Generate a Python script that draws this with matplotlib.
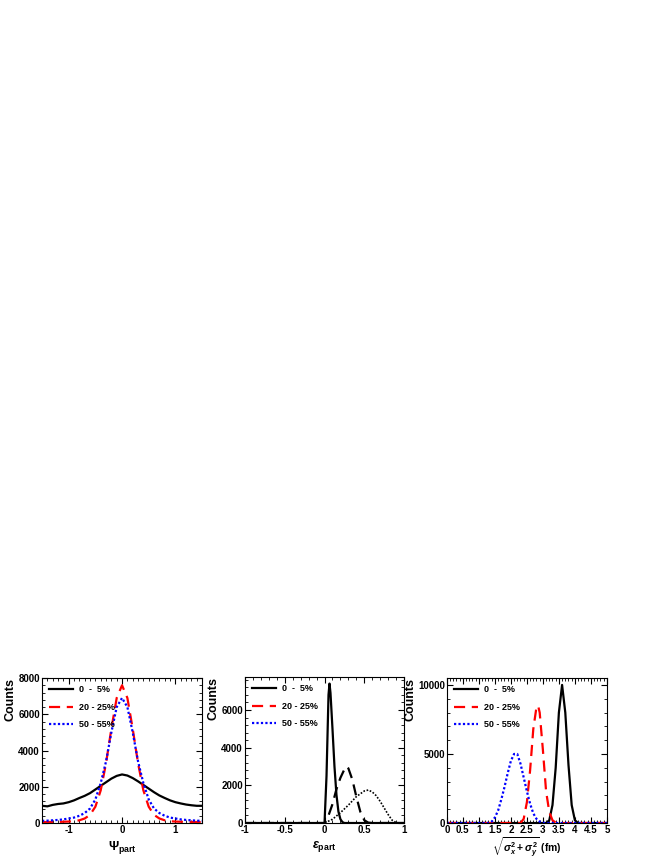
import matplotlib
matplotlib.use('Agg')
import matplotlib.pyplot as plt
from matplotlib.ticker import MultipleLocator, FormatStrFormatter

plt.rcParams['font.family'] = ['Liberation Sans', 'DejaVu Sans']
plt.rcParams['font.weight'] = 'bold'
plt.rcParams['mathtext.fontset'] = 'custom'
plt.rcParams['mathtext.rm'] = 'Liberation Sans'
plt.rcParams['mathtext.it'] = 'Liberation Sans:italic'
plt.rcParams['mathtext.bf'] = 'Liberation Sans:bold'

labels = ['0  -  5%', '20 - 25%', '50 - 55%']

# panel 1: participant plane angle
psi_x = [-1.5, -1.4, -1.3, -1.2, -1.1, -1.0, -0.9, -0.8, -0.7, -0.6, -0.5, -0.4, -0.3, -0.2, -0.1, 0.0,
         0.1, 0.2, 0.3, 0.4, 0.5, 0.6, 0.7, 0.8, 0.9, 1.0, 1.1, 1.2, 1.3, 1.4, 1.5]
psi_c0 = [950, 920, 1000, 1050, 1080, 1150, 1250, 1380, 1500, 1650, 1850, 2050, 2250, 2450, 2600, 2680,
          2620, 2480, 2300, 2100, 1900, 1700, 1520, 1380, 1250, 1150, 1080, 1020, 980, 950, 950]
psi_c20 = [50, 55, 60, 60, 70, 80, 100, 150, 250, 450, 900, 1800, 3300, 5200, 6900, 7600,
           6900, 5200, 3300, 1800, 900, 450, 250, 150, 100, 80, 70, 60, 60, 55, 50]
psi_c50 = [120, 130, 150, 170, 200, 250, 300, 400, 550, 800, 1300, 2200, 3400, 5000, 6400, 6900,
           6400, 5000, 3400, 2200, 1300, 800, 550, 400, 300, 250, 200, 170, 150, 130, 120]

# panel 2: participant eccentricity
ecc_x0 = [-1.0, 0.0, 0.025, 0.05, 0.0625, 0.075, 0.1, 0.125, 0.15, 0.175, 0.2, 0.225, 0.25, 1.0]
ecc_c0 = [0, 0, 2500, 6800, 7400, 6900, 5000, 3000, 1500, 600, 200, 50, 0, 0]
ecc_x20 = [-1.0, 0.0, 0.05, 0.1, 0.15, 0.2, 0.25, 0.28, 0.3, 0.35, 0.4, 0.45, 0.5, 0.55, 0.6, 1.0]
ecc_c20 = [0, 0, 400, 1000, 1800, 2400, 2850, 3000, 2900, 2300, 1400, 600, 150, 20, 0, 0]
ecc_x50 = [-1.0, 0.0, 0.1, 0.2, 0.3, 0.4, 0.5, 0.55, 0.6, 0.65, 0.7, 0.75, 0.8, 0.85, 0.9, 0.95, 1.0]
ecc_c50 = [0, 0, 200, 550, 950, 1400, 1700, 1750, 1650, 1450, 1150, 800, 450, 150, 20, 0, 0]

# panel 3: transverse size
rms_x0 = [0.0, 3.1, 3.2, 3.3, 3.4, 3.5, 3.6, 3.7, 3.8, 3.9, 4.0, 4.1, 5.0]
rms_c0 = [0, 0, 200, 1300, 4000, 8000, 10000, 8000, 4200, 1300, 200, 0, 0]
rms_x20 = [0.0, 2.3, 2.4, 2.5, 2.6, 2.7, 2.8, 2.85, 2.9, 3.0, 3.1, 3.2, 3.3, 3.4, 3.5, 5.0]
rms_c20 = [0, 0, 300, 1500, 3800, 6800, 8400, 8500, 8000, 5300, 2300, 800, 200, 30, 0, 0]
rms_x50 = [0.0, 1.3, 1.4, 1.5, 1.6, 1.7, 1.8, 1.9, 2.0, 2.1, 2.2, 2.3, 2.4, 2.5, 2.6, 2.7, 2.8, 2.9, 3.0,
           3.1, 5.0]
rms_c50 = [0, 0, 100, 400, 900, 1700, 2600, 3600, 4500, 5000, 5000, 4300, 3300, 2300, 1400, 700, 300,
           100, 20, 0, 0]


def style_axes(ax, xmaj, xmin, ymaj, ymin):
    ax.xaxis.set_major_locator(MultipleLocator(xmaj))
    ax.xaxis.set_minor_locator(MultipleLocator(xmin))
    ax.yaxis.set_major_locator(MultipleLocator(ymaj))
    ax.yaxis.set_minor_locator(MultipleLocator(ymin))
    ax.xaxis.set_major_formatter(FormatStrFormatter('%g'))
    ax.yaxis.set_major_formatter(FormatStrFormatter('%g'))
    ax.tick_params(which='both', direction='in', top=True, right=True, labelsize=7)
    ax.tick_params(which='major', length=4, width=0.8)
    ax.tick_params(which='minor', length=2, width=0.6)
    ax.tick_params(axis='y', pad=1.5)
    ax.tick_params(axis='x', pad=1.5)
    ax.set_ylabel('Counts', fontsize=9, fontweight='bold', loc='top', labelpad=1)
    ax.legend(loc='upper left', frameon=False, fontsize=6.5, handlelength=2.6,
              labelspacing=0.95, borderaxespad=0.4, handletextpad=0.7)


fig = plt.figure(figsize=(6.64, 8.6), dpi=100)
ax1 = fig.add_axes([0.0633, 0.043, 0.241, 0.1686])
ax2 = fig.add_axes([0.369, 0.043, 0.2395, 0.1698])
ax3 = fig.add_axes([0.673, 0.043, 0.241, 0.1686])

ax1.plot(psi_x, psi_c0, color='black', lw=1.6, label=labels[0])
ax1.plot(psi_x, psi_c20, color='red', lw=1.6, ls=(0, (5, 3)), label=labels[1])
ax1.plot(psi_x, psi_c50, color='blue', lw=1.6, ls=(0, (1, 1)), label=labels[2])
ax1.set_xlim(-1.5, 1.5)
ax1.set_ylim(0, 8000)
ax1.set_xlabel(r'$\Psi_{\rm part}$', fontsize=9, labelpad=3)
style_axes(ax1, 1, 0.1, 2000, 400)

# in the original the eccentricity curves are drawn in black, only the legend is coloured
ax2.plot(ecc_x0, ecc_c0, color='black', lw=1.6, label=labels[0])
ax2.plot(ecc_x20, ecc_c20, color='black', lw=1.6, ls=(0, (5, 3)))
ax2.plot(ecc_x50, ecc_c50, color='black', lw=1.2, ls=(0, (1, 1)))
ax2.plot([], [], color='red', lw=1.6, ls=(0, (5, 3)), label=labels[1])
ax2.plot([], [], color='blue', lw=1.6, ls=(0, (1, 1)), label=labels[2])
ax2.set_xlim(-1, 1)
ax2.set_ylim(0, 7750)
ax2.set_xlabel(r'$\epsilon_{\rm part}$', fontsize=9, labelpad=3)
style_axes(ax2, 0.5, 0.1, 2000, 400)

ax3.plot(rms_x0, rms_c0, color='black', lw=1.6, label=labels[0])
ax3.plot(rms_x20, rms_c20, color='red', lw=1.6, ls=(0, (5, 3)), label=labels[1])
ax3.plot(rms_x50, rms_c50, color='blue', lw=1.6, ls=(0, (1, 1)), label=labels[2])
ax3.set_xlim(0, 5)
ax3.set_ylim(0, 10500)
ax3.set_xlabel(r'$\sqrt{\sigma_x^2+\sigma_y^2}$ (fm)', fontsize=7.5, fontweight='bold')
style_axes(ax3, 0.5, 0.1, 5000, 1000)
ax3.xaxis.set_label_coords(0.5, -0.09)

fig.savefig('out.png', dpi=100)
